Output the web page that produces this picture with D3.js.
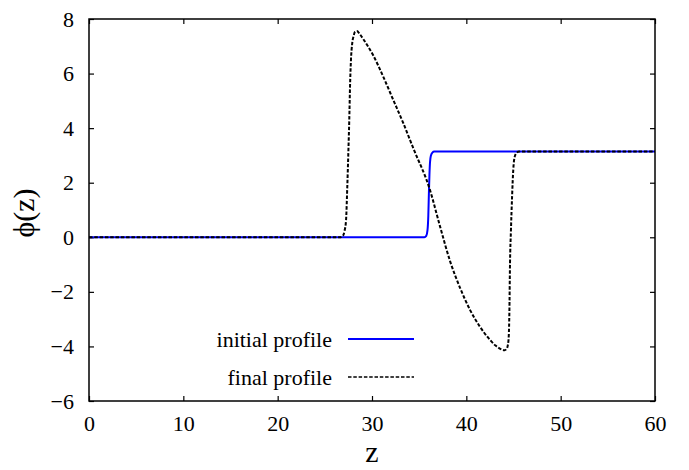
<!DOCTYPE html>
<html>
<head>
<meta charset="utf-8">
<script src="https://cdn.jsdelivr.net/npm/d3@7"></script>
<style>
  body { margin: 0; background: #fff; }
  svg { display: block; font-family: "Liberation Serif", "Times New Roman", serif; }
</style>
</head>
<body>
<svg width="689" height="470"></svg>
<script>
// Data
var zInitial   = [0, 35.55, 35.75, 35.88, 35.97, 36.03, 36.09, 36.15, 36.25, 36.4, 36.6, 60];
var phiInitial = [0, 0, 0.05, 0.25, 0.8, 1.6, 2.3, 2.75, 3.0, 3.1, 3.14, 3.14];

var zFinal   = [0, 26.6, 26.9, 27.1, 27.25, 27.38, 27.49, 27.59, 27.67, 27.77, 27.9, 28.05, 28.2, 28.4, 28.7, 29.1, 29.6, 30.14, 31.2, 32.26, 33.32, 34.38, 36.15, 37.21, 38.3, 39.33, 40.39, 41.45, 42.51, 43.1, 43.5, 43.8, 44.05, 44.25, 44.4, 44.5, 44.56, 44.63, 44.73, 44.85, 44.98, 45.15, 45.35, 45.6, 46, 60];
var phiFinal = [0, 0, 0.05, 0.25, 0.63, 1.85, 3.08, 4.3, 5.52, 6.5, 7.1, 7.38, 7.53, 7.56, 7.45, 7.25, 6.98, 6.66, 5.88, 5.03, 4.18, 3.26, 1.73, 0.4, -0.9, -1.85, -2.66, -3.28, -3.76, -3.97, -4.07, -4.12, -4.14, -4.1, -3.95, -3.6, -2.79, -0.95, 0.27, 1.5, 2.5, 2.98, 3.1, 3.14, 3.14, 3.14];

var xTicks = [0, 10, 20, 30, 40, 50, 60];
var yTicks = [-6, -4, -2, 0, 2, 4, 6, 8];
var legendLabels = ['initial profile', 'final profile'];

var svg = d3.select('svg');

// Plot area
var plotLeft = 89, plotRight = 655, plotTop = 19, plotBottom = 401;

var x = d3.scaleLinear().domain([0, 60]).range([plotLeft, plotRight]);
var y = d3.scaleLinear().domain([-6, 8]).range([plotBottom, plotTop]);

var tickFont = '22px';

// Axes with inward ticks, mirrored on top and right
svg.append('g')
  .attr('transform', 'translate(0,' + plotBottom + ')')
  .call(d3.axisBottom(x).tickValues(xTicks).tickSizeInner(-5).tickSizeOuter(0).tickPadding(14))
  .call(function (g) {
    g.select('.domain').remove();
    g.selectAll('text').attr('font-size', tickFont).attr('fill', '#000').attr('font-family', 'Liberation Serif');
  });

svg.append('g')
  .attr('transform', 'translate(0,' + plotTop + ')')
  .call(d3.axisTop(x).tickValues(xTicks).tickSizeInner(-5).tickSizeOuter(0).tickFormat(''))
  .call(function (g) { g.select('.domain').remove(); });

svg.append('g')
  .attr('transform', 'translate(' + plotLeft + ',0)')
  .call(d3.axisLeft(y).tickValues(yTicks).tickSizeInner(-5).tickSizeOuter(0).tickPadding(15))
  .call(function (g) {
    g.select('.domain').remove();
    g.selectAll('text').attr('font-size', tickFont).attr('fill', '#000').attr('font-family', 'Liberation Serif');
  });

svg.append('g')
  .attr('transform', 'translate(' + plotRight + ',0)')
  .call(d3.axisRight(y).tickValues(yTicks).tickSizeInner(-5).tickSizeOuter(0).tickFormat(''))
  .call(function (g) { g.select('.domain').remove(); });

svg.selectAll('.tick line').attr('stroke', '#000').attr('stroke-width', 1.2);

// Curves
var line = d3.line()
  .x(function (d) { return x(d[0]); })
  .y(function (d) { return y(d[1]); })
  .curve(d3.curveMonotoneX);

var initial = zInitial.map(function (z, i) { return [z, phiInitial[i]]; });
var finalP = zFinal.map(function (z, i) { return [z, phiFinal[i]]; });

svg.append('path')
  .datum(initial)
  .attr('fill', 'none')
  .attr('stroke', '#0000ff')
  .attr('stroke-width', 2)
  .attr('d', line);

svg.append('path')
  .datum(finalP)
  .attr('fill', 'none')
  .attr('stroke', '#000')
  .attr('stroke-width', 2)
  .attr('stroke-dasharray', '3.5,1.8')
  .attr('d', line);

// Frame
svg.append('rect')
  .attr('x', plotLeft).attr('y', plotTop)
  .attr('width', plotRight - plotLeft).attr('height', plotBottom - plotTop)
  .attr('fill', 'none').attr('stroke', '#000').attr('stroke-width', 1.5);

// Legend
var legendStyles = [
  { stroke: '#0000ff', dash: null, width: 2 },
  { stroke: '#000', dash: '3.5,1.8', width: 1.5 }
];
var legend = svg.append('g');
legendLabels.forEach(function (label, i) {
  var ly = 339 + i * 38;
  legend.append('text')
    .attr('x', 332).attr('y', ly + 8)
    .attr('text-anchor', 'end')
    .attr('font-size', '22px')
    .text(label);
  legend.append('line')
    .attr('x1', 348).attr('x2', 414)
    .attr('y1', ly).attr('y2', ly)
    .attr('stroke', legendStyles[i].stroke)
    .attr('stroke-width', legendStyles[i].width)
    .attr('stroke-dasharray', legendStyles[i].dash);
});

// Axis labels
svg.append('text')
  .attr('x', (plotLeft + plotRight) / 2).attr('y', 462)
  .attr('text-anchor', 'middle')
  .attr('font-size', '30px')
  .text('z');

svg.append('text')
  .attr('transform', 'translate(34,' + 213 + ') rotate(-90)')
  .attr('text-anchor', 'middle')
  .attr('font-size', '30px')
  .text('\u03d5(z)');
</script>
</body>
</html>
